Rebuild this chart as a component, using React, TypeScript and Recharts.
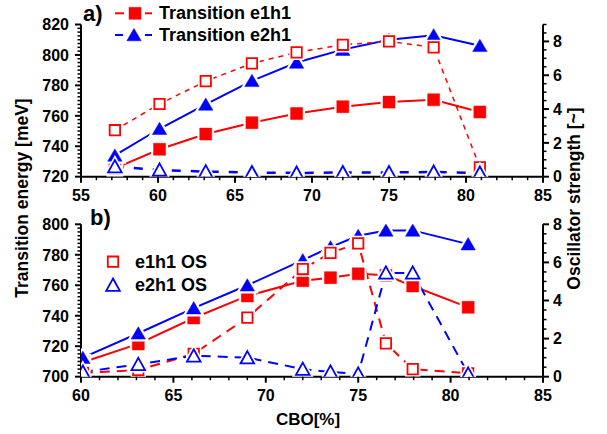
import { LineChart, Line, XAxis, YAxis } from 'recharts';

// panel a) CBO values and series
const topX = [57.2, 60.1, 63.1, 66.1, 69.0, 72.0, 75.0, 77.9, 80.9];
const topE1 = [725.5, 738, 748, 755.5, 761.5, 766, 769, 770.5, 762.5];
const topE2 = [734, 751.5, 767.5, 783, 795, 803.5, 810, 813, 806];
const topOs1 = [2.75, 4.3, 5.65, 6.7, 7.35, 7.8, 8.0, 7.65, 0.55];
const topOs2 = [0.6, 0.4, 0.3, 0.25, 0.22, 0.25, 0.25, 0.28, 0.22];

// panel b)
const botX = [60.1, 63.1, 66.1, 69.0, 72.0, 73.5, 75.0, 76.5, 77.95, 80.95];
const botE1 = [709.5, 721.5, 738.5, 753, 763, 765, 767.5, 766.5, 759.5, 745.5];
const botE2 = [712.5, 728.5, 745, 760, 776.5, 785, 792.5, 796, 796, 787];
const botOs1 = [0.2, 0.35, 1.2, 3.1, 5.65, 6.5, 7.0, 1.75, 0.4, 0.18];
const botOs2 = [0.25, 0.65, 1.1, 1.0, 0.4, 0.25, 0.15, 5.45, 5.45, 0.15];

// axis tick labels (majors) and minor step
const topXMajor = [55, 60, 65, 70, 75, 80, 85];
const botXMajor = [60, 65, 70, 75, 80, 85];
const topEMajor = [720, 740, 760, 780, 800, 820];
const botEMajor = [700, 720, 740, 760, 780, 800];
const topOsMajor = [0, 2, 4, 6, 8];
const botOsMajor = [0, 2, 4, 6, 8];

const RED = '#ff0000';
const BLUE = '#0000ff';
const FONT = '"Liberation Sans", Arial, sans-serif';

const withMinor = (from: number, to: number, step: number) => {
  const out: number[] = [];
  for (let v = from; v <= to + 1e-9; v += step) out.push(+v.toFixed(3));
  return out;
};

const topData = topX.map((x, i) => ({ x, e1: topE1[i], e2: topE2[i], os1: topOs1[i], os2: topOs2[i] }));
const botData = botX.map((x, i) => ({ x, e1: botE1[i], e2: botE2[i], os1: botOs1[i], os2: botOs2[i] }));

const isMajor = (v: number, majors: number[]) => majors.some((m) => Math.abs(m - v) < 1e-6);

const tickText = { fontFamily: FONT, fontWeight: 'bold' as const, fontSize: 16, fill: '#000' };

const xTick = (majors: number[]) => (p: any) => {
  const v = p.payload.value;
  const major = isMajor(v, majors);
  return (
    <g>
      <line x1={p.x} x2={p.x} y1={p.y} y2={p.y + (major ? 6 : 3.5)} stroke="#000" strokeWidth={major ? 2 : 1.5} />
      {major && (
        <text x={p.x} y={p.y + 24} textAnchor="middle" {...tickText}>
          {v}
        </text>
      )}
    </g>
  );
};

const leftTick = (majors: number[]) => (p: any) => {
  const v = p.payload.value;
  const major = isMajor(v, majors);
  return (
    <g>
      <line x1={p.x} x2={p.x - (major ? 6 : 3.5)} y1={p.y} y2={p.y} stroke="#000" strokeWidth={major ? 2 : 1.5} />
      {major && (
        <text x={p.x - 12} y={p.y} dy="0.36em" textAnchor="end" {...tickText}>
          {v}
        </text>
      )}
    </g>
  );
};

const rightTick = (majors: number[]) => (p: any) => {
  const v = p.payload.value;
  const major = isMajor(v, majors);
  return (
    <g>
      <line x1={p.x} x2={p.x + (major ? 6 : 3.5)} y1={p.y} y2={p.y} stroke="#000" strokeWidth={major ? 2 : 1.5} />
      {major && (
        <text x={p.x + 10} y={p.y} dy="0.36em" textAnchor="start" {...tickText}>
          {v}
        </text>
      )}
    </g>
  );
};

type Kind = 'sq' | 'tri';

function shapeOf(kind: Kind, cx: number, cy: number, filled: boolean) {
  if (kind === 'sq') {
    const s = filled ? 6 : 5.2;
    return `M${cx - s},${cy - s}H${cx + s}V${cy + s}H${cx - s}Z`;
  }
  const w = filled ? 7.2 : 6.8;
  return `M${cx},${cy - 6.5}L${cx + w},${cy + 5.8}L${cx - w},${cy + 5.8}Z`;
}

function Marker({ cx, cy, kind, color, filled, halo = true }: any) {
  if (cx == null || cy == null) return <g />;
  const d = shapeOf(kind, cx, cy, filled);
  return (
    <g>
      {halo && <path d={d} fill="#fff" stroke="#fff" strokeWidth={5} />}
      <path d={d} fill={filled ? color : '#fff'} stroke={color} strokeWidth={filled ? 0.5 : 1.8} strokeLinejoin="miter" />
    </g>
  );
}

const dotOf = (kind: Kind, color: string, filled: boolean) => (p: any) => (
  <Marker key={`m-${p.index}`} cx={p.cx} cy={p.cy} kind={kind} color={color} filled={filled} />
);

const axisLine = { stroke: '#000', strokeWidth: 2 };

function Panel({ data, xDomain, xMajor, eDomain, eMajor, osDomain, osMajor, height, margin, dashA, dashB, osWidthA, osWidthB }: any) {
  return (
    <LineChart width={607} height={height} data={data} margin={margin}>
      <Line yAxisId="E" dataKey="e1" type="linear" stroke={RED} strokeWidth={2} dot={dotOf('sq', RED, true)} activeDot={false} isAnimationActive={false} />
      <Line yAxisId="E" dataKey="e2" type="linear" stroke={BLUE} strokeWidth={2} dot={dotOf('tri', BLUE, true)} activeDot={false} isAnimationActive={false} />
      <Line yAxisId="OS" dataKey="os1" type="linear" stroke={RED} strokeWidth={osWidthA} strokeDasharray={dashA} dot={dotOf('sq', RED, false)} activeDot={false} isAnimationActive={false} />
      <Line yAxisId="OS" dataKey="os2" type="linear" stroke={BLUE} strokeWidth={osWidthB} strokeDasharray={dashB} dot={dotOf('tri', BLUE, false)} activeDot={false} isAnimationActive={false} />
      <XAxis
        dataKey="x"
        type="number"
        domain={xDomain}
        allowDataOverflow
        ticks={withMinor(xDomain[0], xDomain[1], 1)}
        interval={0}
        height={30}
        tickSize={0}
        tickMargin={0}
        tickLine={false}
        axisLine={axisLine}
        tick={xTick(xMajor)}
      />
      <YAxis
        yAxisId="E"
        orientation="left"
        type="number"
        domain={eDomain}
        allowDataOverflow
        ticks={withMinor(eDomain[0], eDomain[1], 2.5)}
        interval={0}
        width={60}
        tickSize={0}
        tickMargin={0}
        tickLine={false}
        axisLine={axisLine}
        tick={leftTick(eMajor)}
      />
      <YAxis
        yAxisId="OS"
        orientation="right"
        type="number"
        domain={osDomain}
        allowDataOverflow
        ticks={withMinor(osDomain[0], osDomain[1], 0.5)}
        interval={0}
        width={60}
        tickSize={0}
        tickMargin={0}
        tickLine={false}
        axisLine={axisLine}
        tick={rightTick(osMajor)}
      />
    </LineChart>
  );
}

const labelText = { fontFamily: FONT, fontWeight: 'bold' as const, fill: '#000' };

export default function App() {
  return (
    <div style={{ position: 'absolute', left: 0, top: 0, width: 607, height: 434, background: '#fff', overflow: 'hidden' }}>
      <div style={{ position: 'absolute', left: 0, top: 0 }}>
        <Panel
          data={topData}
          xDomain={[55, 85]}
          xMajor={topXMajor}
          eDomain={[720, 820]}
          eMajor={topEMajor}
          osDomain={[0, 9]}
          osMajor={topOsMajor}
          height={210}
          margin={{ top: 24.5, right: 4, bottom: 3.3, left: 21 }}
          dashA="5 5"
          dashB="9 10"
          osWidthA={1.5}
          osWidthB={2.5}
        />
      </div>
      <div style={{ position: 'absolute', left: 0, top: 200 }}>
        <Panel
          data={botData}
          xDomain={[60, 85]}
          xMajor={botXMajor}
          eDomain={[700, 800]}
          eMajor={botEMajor}
          osDomain={[0, 8]}
          osMajor={botOsMajor}
          height={234}
          margin={{ top: 24.3, right: 4, bottom: 27.3, left: 21 }}
          dashA="10 7"
          dashB="10 7"
          osWidthA={2}
          osWidthB={2}
        />
      </div>
      <svg width={607} height={434} style={{ position: 'absolute', left: 0, top: 0, pointerEvents: 'none' }}>
        <text x={83} y={20.5} fontSize={22} {...labelText}>a)</text>
        <text x={90} y={225} fontSize={22} {...labelText}>b)</text>

        <line x1={115} x2={124} y1={13.3} y2={13.3} stroke={RED} strokeWidth={2} />
        <line x1={145} x2={152} y1={13.3} y2={13.3} stroke={RED} strokeWidth={2} />
        <Marker cx={135} cy={13.3} kind="sq" color={RED} filled halo={false} />
        <text x={159} y={19} fontSize={18} {...labelText}>Transition e1h1</text>
        <line x1={115} x2={123} y1={35} y2={35} stroke={BLUE} strokeWidth={2} />
        <line x1={145} x2={152} y1={35} y2={35} stroke={BLUE} strokeWidth={2} />
        <Marker cx={134} cy={35} kind="tri" color={BLUE} filled halo={false} />
        <text x={159} y={41} fontSize={18} {...labelText}>Transition e2h1</text>

        <Marker cx={113} cy={261.7} kind="sq" color={RED} filled={false} halo={false} />
        <text x={135} y={268} fontSize={18} {...labelText}>e1h1 OS</text>
        <Marker cx={113} cy={285} kind="tri" color={BLUE} filled={false} halo={false} />
        <text x={135} y={291} fontSize={18} {...labelText}>e2h1 OS</text>

        <text transform="translate(28,198) rotate(-90)" textAnchor="middle" fontSize={17.5} {...labelText}>
          Transition energy [meV]
        </text>
        <text transform="translate(580,198.5) rotate(-90)" textAnchor="middle" fontSize={17.5} {...labelText}>
          Oscillator strength [~]
        </text>
        <text x={308} y={425} textAnchor="middle" fontSize={17} {...labelText}>CBO[%]</text>
      </svg>
    </div>
  );
}
